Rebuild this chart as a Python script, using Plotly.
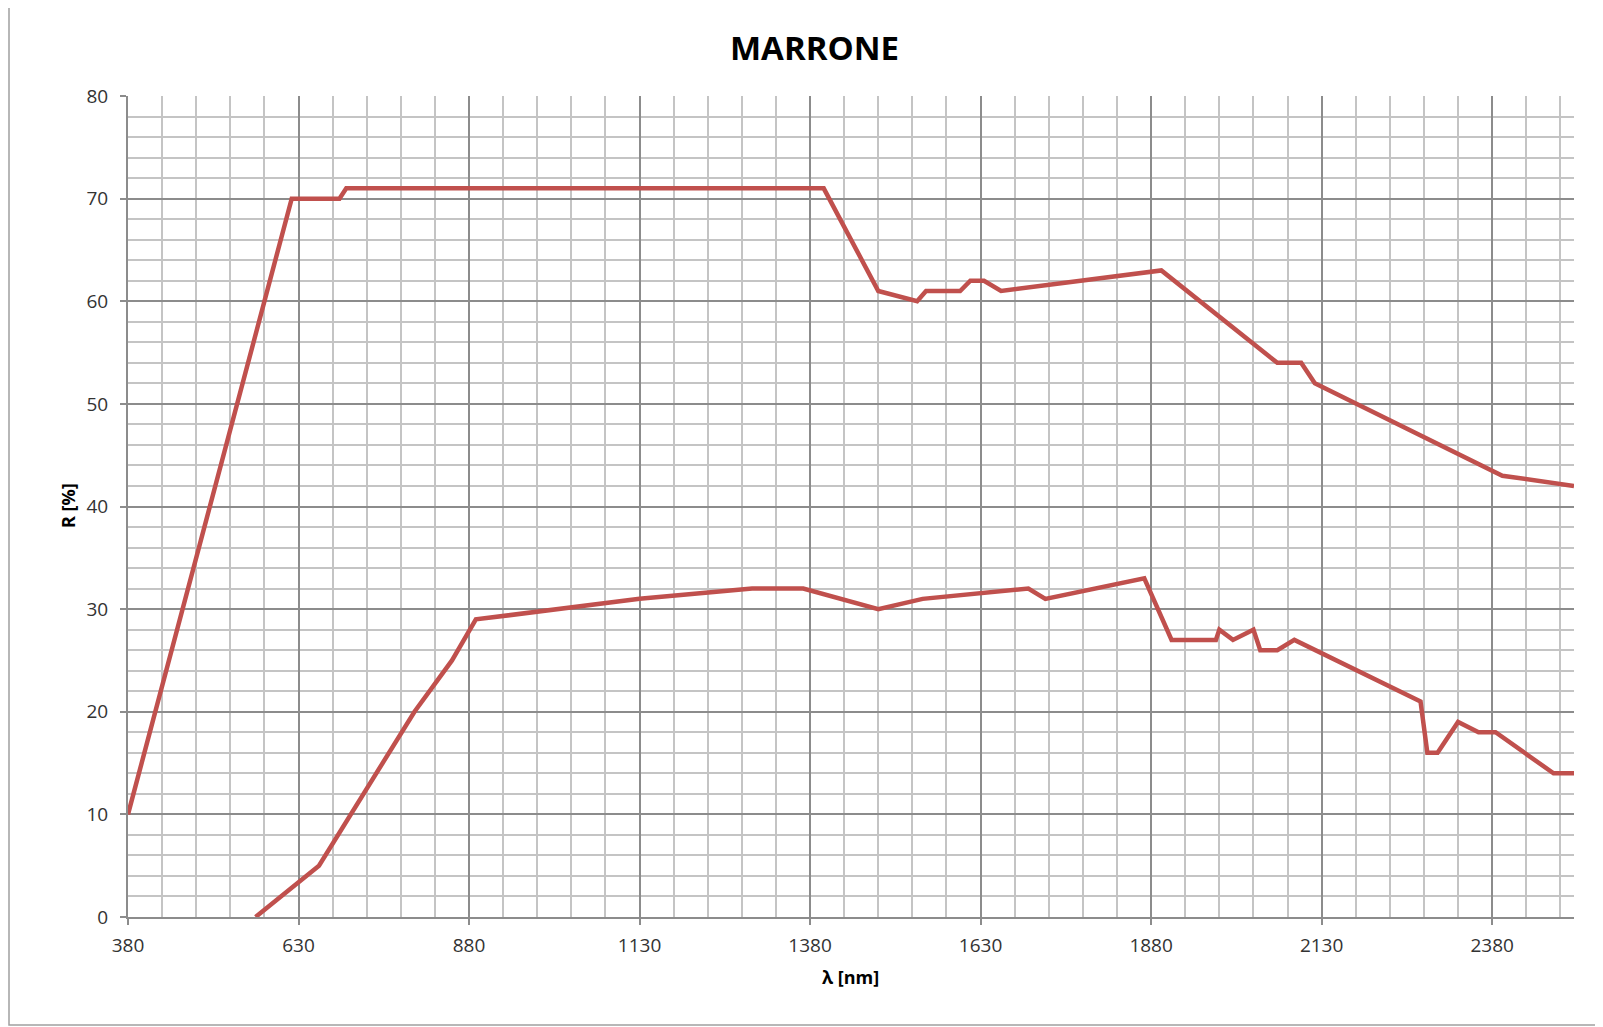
import plotly.graph_objects as go

# Upper curve
wl_upper = [380, 620, 690, 700, 1400, 1440, 1480, 1537, 1550, 1600, 1615, 1635, 1660, 1895, 2065, 2100, 2120, 2395, 2500]
r_upper = [10, 70, 70, 71, 71, 66, 61, 60, 61, 61, 62, 62, 61, 63, 54, 54, 52, 43, 42]

# Lower curve
wl_lower = [567, 660, 800, 855, 890, 1010, 1130, 1295, 1370, 1480, 1545, 1700, 1725, 1870, 1910, 1975, 1980, 2000,
            2030, 2040, 2065, 2090, 2275, 2285, 2300, 2330, 2360, 2385, 2470, 2500]
r_lower = [0, 5, 20, 25, 29, 30, 31, 32, 32, 30, 31, 32, 31, 33, 27, 27, 28, 27,
           28, 26, 26, 27, 21, 16, 16, 19, 18, 18, 14, 14]

title_text = "MARRONE"
x_title = "λ [nm]"
y_title = "R [%]"

LINE = "#C0504D"
MAJOR = "#8C8C8C"
MINOR = "#C4C4C4"
FONT = "Open Sans"

# page has an 8px body margin: figure coordinates = page coordinates - 8
OFF = 8
W, H = 1603, 1027
L, T = 128 - OFF, 96 - OFF
R = W - (1574 - OFF)
B = H - (917 - OFF)
PW, PH = W - L - R, H - T - B

fig = go.Figure()
for xs, ys in [(wl_upper, r_upper), (wl_lower, r_lower)]:
    fig.add_trace(go.Scatter(x=xs, y=ys, mode="lines",
                             line=dict(color=LINE, width=4.5),
                             showlegend=False, hoverinfo="x+y"))

fig.update_layout(
    width=W, height=H,
    paper_bgcolor="white", plot_bgcolor="white",
    margin=dict(l=L, r=R, t=T, b=B, autoexpand=False),
    font=dict(family=FONT, size=19, color="#333333"),
)
fig.update_xaxes(
    range=[380, 2500], tick0=380, dtick=250,
    showgrid=True, gridcolor=MAJOR, gridwidth=1.5,
    minor=dict(dtick=50, tick0=380, showgrid=True, gridcolor=MINOR, gridwidth=1.5),
    showline=True, linecolor=MAJOR, linewidth=2,
    ticks="outside", ticklen=6, tickcolor=MAJOR, tickwidth=1.5,
    zeroline=False, automargin=False, ticklabelstandoff=4,
    tickfont=dict(family=FONT, size=19, color="#333333"),
)
fig.update_yaxes(
    range=[0, 80], tick0=0, dtick=10,
    showgrid=True, gridcolor=MAJOR, gridwidth=1.5,
    minor=dict(dtick=2, showgrid=True, gridcolor=MINOR, gridwidth=1.5),
    showline=True, linecolor=MAJOR, linewidth=2,
    ticks="outside", ticklen=6, tickcolor=MAJOR, tickwidth=1.5,
    zeroline=False, automargin=False, ticklabelstandoff=8,
    tickfont=dict(family=FONT, size=19, color="#333333"),
)

def px_x(px):
    return (px - OFF - L) / PW

def px_y(py):
    return (H - B - (py - OFF)) / PH

fig.add_annotation(text="<b>%s</b>" % title_text, xref="paper", yref="paper",
                   x=px_x(814), y=px_y(47), showarrow=False, xanchor="center", yanchor="middle",
                   font=dict(family=FONT, size=33, color="black"))
fig.add_annotation(text="<b>%s</b>" % x_title, xref="paper", yref="paper",
                   x=px_x(850), y=px_y(977), showarrow=False, xanchor="center", yanchor="middle",
                   font=dict(family=FONT, size=18, color="black"))
fig.add_annotation(text="<b>%s</b>" % y_title, xref="paper", yref="paper",
                   x=px_x(68), y=px_y(506), showarrow=False, xanchor="center", yanchor="middle",
                   textangle=-90, font=dict(family=FONT, size=18, color="black"))

fig.add_shape(type="rect", xref="paper", yref="paper",
              x0=px_x(9), x1=px_x(1600), y0=px_y(1025), y1=px_y(6),
              line=dict(color="#A0A0A0", width=1.5), layer="below")

fig.write_html("out.html")
